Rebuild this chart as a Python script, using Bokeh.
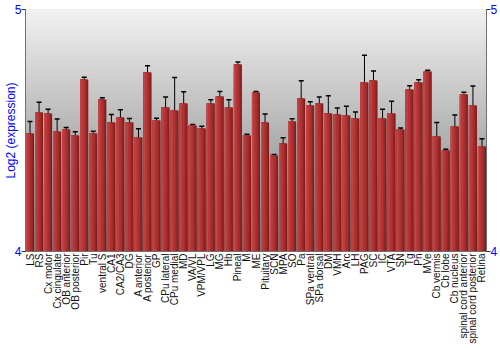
import numpy as np
from math import pi
from bokeh.plotting import figure
from bokeh.models import (ColumnDataSource, Whisker, TeeHead, LinearAxis,
                          FixedTicker, Range1d, BoxAnnotation)
from bokeh.transform import dodge
from bokeh.embed import file_html
from bokeh.resources import INLINE

regions = ["LS", "RS", "Cx motor", "Cx cingulate", "OB anterior", "OB posterior",
           "Pir", "Tu", "ventral S", "CA1", "CA2/CA3", "DG", "A anterior",
           "A posterior", "GP", "CPu lateral", "CPu medial", "MD", "VA/VL",
           "VPM/VPL", "LG", "MG", "Hb", "Pineal", "M", "ME", "Pituitary", "SCN",
           "MPA", "SO", "Pa", "SPa ventral", "SPa dorsal", "DM", "VMH", "Arc",
           "LH", "PAG", "SC", "IC", "VTA", "SN", "Tg", "Pn", "MVe", "Cb vermis",
           "Cb lobe", "Cb nucleus", "spinal cord anterior",
           "spinal cord posterior", "Retina"]

values = [4.488, 4.574, 4.570, 4.496, 4.504, 4.479, 4.711, 4.488, 4.628, 4.533,
          4.554, 4.533, 4.471, 4.740, 4.541, 4.595, 4.583, 4.612, 4.521, 4.508,
          4.612, 4.640, 4.595, 4.773, 4.479, 4.657, 4.533, 4.397, 4.446, 4.537,
          4.632, 4.603, 4.612, 4.570, 4.566, 4.562, 4.550, 4.698, 4.707, 4.550,
          4.570, 4.504, 4.669, 4.698, 4.744, 4.475, 4.417, 4.517, 4.649, 4.603,
          4.434]

errors = [0.049, 0.043, 0.018, 0.052, 0.008, 0.016, 0.009, 0.009, 0.007, 0.033,
          0.032, 0.017, 0.036, 0.028, 0.010, 0.043, 0.136, 0.048, 0.004, 0.010,
          0.015, 0.021, 0.032, 0.010, 0.005, 0.004, 0.035, 0.004, 0.024, 0.012,
          0.074, 0.016, 0.026, 0.074, 0.027, 0.038, 0.026, 0.113, 0.039, 0.038,
          0.051, 0.006, 0.016, 0.012, 0.005, 0.058, 0.006, 0.047, 0.009, 0.081,
          0.032]

y_ticks = [4, 5]
y_label = "Log2 (expression)"

src = ColumnDataSource(dict(
    region=regions,
    value=values,
    upper=[v + e for v, e in zip(values, errors)],
    lower=[v - e for v, e in zip(values, errors)],
))

p = figure(width=500, height=350, x_range=regions, y_range=Range1d(4, 5),
           output_backend="svg", toolbar_location=None,
           min_border_left=20, min_border_right=14, min_border_top=9,
           min_border_bottom=99)
p.background_fill_color = "#f3f3f3"
p.border_fill_color = "white"
p.outline_line_color = "#707070"
p.xgrid.grid_line_color = None
p.ygrid.grid_line_color = None

# vertical gradient background (overlapping bands, so no seams)
n = 60
edges = np.linspace(4, 5, n + 1)
for i in range(n):
    t = i / n  # 0 at bottom, 1 at top
    g = int(round(0x78 + (0xf3 - 0x78) * t))
    p.add_layout(BoxAnnotation(bottom=edges[i], top=5,
                               fill_color="#%02x%02x%02x" % (g, g, g),
                               fill_alpha=1, line_color=None, level="underlay"))

# bars with cylindrical shading
left = -0.445
layers = [(0.89, "#7c1c1c"), (0.78, "#922424"), (0.64, "#a42c2c"),
          (0.48, "#b03333"), (0.30, "#b93b3b"), (0.12, "#c44a4a")]
for w, c in layers:
    p.vbar(x=dodge("region", left + w / 2, range=p.x_range), top="value",
           bottom=4, width=w, source=src, fill_color=c, line_color=None)

wh = Whisker(base="region", upper="upper", lower="lower", source=src,
             line_color="black", line_width=1,
             upper_head=TeeHead(size=5, line_color="black", line_width=1.5),
             lower_head=TeeHead(size=5, line_color="black", line_width=1.5))
p.add_layout(wh)

# axes
p.yaxis[0].ticker = FixedTicker(ticks=y_ticks)
p.yaxis.axis_label = y_label
p.yaxis.axis_label_text_color = "blue"
p.yaxis.axis_label_text_font = "Liberation Sans"
p.yaxis.axis_label_text_font_style = "normal"
p.yaxis.axis_label_text_font_size = "12px"
p.yaxis.axis_label_standoff = -6

right = LinearAxis(ticker=FixedTicker(ticks=y_ticks))
p.add_layout(right, "right")

for ax in p.yaxis:
    ax.major_label_text_color = "blue"
    ax.major_label_text_font = "Liberation Sans"
    ax.major_label_text_font_size = "12px"
    ax.major_label_standoff = 0
    ax.major_tick_out = 4
    ax.major_tick_in = 0
    ax.major_tick_line_color = "#333333"
    ax.minor_tick_line_color = None
    ax.axis_line_color = "#707070"

p.xaxis.major_label_orientation = pi / 2
p.xaxis.major_label_text_font = "Liberation Sans"
p.xaxis.major_label_text_font_size = "10px"
p.xaxis.major_label_text_color = "#111111"
p.xaxis.major_label_standoff = 2
p.xaxis.major_tick_line_color = None
p.xaxis.major_tick_out = 0
p.xaxis.axis_line_color = "#707070"

open("out.html", "w").write(file_html(p, INLINE))
